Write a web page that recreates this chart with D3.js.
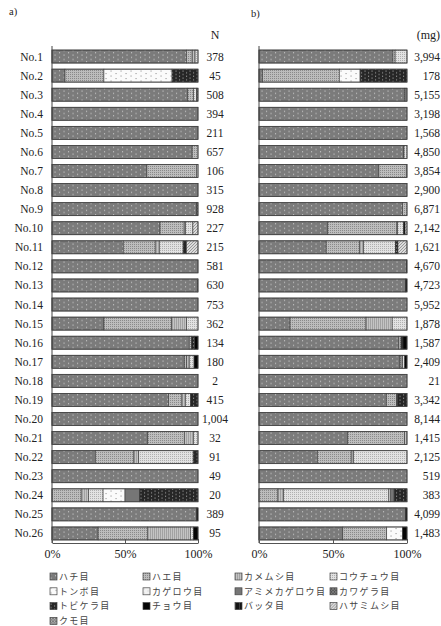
<!DOCTYPE html>
<html>
<head>
<meta charset="utf-8">
<script src="https://cdn.jsdelivr.net/npm/d3@7"></script>
<style>
    body { margin: 0; background: #fff; }
    text { font-family: "Liberation Serif", "Noto Sans CJK JP", serif; fill: #222; }
    .legend text { font-family: "Noto Sans CJK JP", sans-serif; font-size: 9px; letter-spacing: 1.3px; fill: #444; }
    .axis path, .axis line { stroke: #555; }
</style>
</head>
<body>
<div id="chart"></div>
<script>
// sites
var SITES = ["No.1", "No.2", "No.3", "No.4", "No.5", "No.6", "No.7", "No.8", "No.9", "No.10",
    "No.11", "No.12", "No.13", "No.14", "No.15", "No.16", "No.17", "No.18", "No.19", "No.20",
    "No.21", "No.22", "No.23", "No.24", "No.25", "No.26"];

// insect orders, in stacking / legend order
var ORDERS = ["ハチ目", "ハエ目", "カメムシ目", "コウチュウ目", "トンボ目", "カゲロウ目",
    "アミメカゲロウ目", "カワゲラ目", "トビケラ目", "チョウ目", "バッタ目", "ハサミムシ目", "クモ目"];

// number of individuals (N) and dry weight (mg)
var COUNT_N = [378, 45, 508, 394, 211, 657, 106, 315, 928, 227, 215, 581, 630, 753, 362, 134,
    180, 2, 415, 1004, 32, 91, 49, 20, 389, 95];
var MASS_MG = [3994, 178, 5155, 3198, 1568, 4850, 3854, 2900, 6871, 2142, 1621, 4670, 4723,
    5952, 1878, 1587, 2409, 21, 3342, 8144, 1415, 2125, 519, 383, 4099, 1483];

// a) share of individuals (%) per order, same order as ORDERS (missing = 0)
var SHARE_A = [
    [92, 4, 2, 2],
    [8.9, 26.7, 0, 0, 46.7, 0, 0, 0, 17.8],
    [93, 4, 0, 2, 0, 0, 0, 1],
    [100],
    [100],
    [96, 4],
    [65, 34, 0, 1],
    [100],
    [99, 0, 0, 0, 0, 0, 0, 1],
    [74, 16.5, 1, 5, 0, 0, 0, 0, 0, 0, 0, 3.5],
    [48.8, 21.9, 2.8, 16.3, 0, 0, 0, 0, 2.3, 0, 0, 7.9],
    [100],
    [99.5, 0, 0, 0, 0, 0, 0, 0.5],
    [100],
    [35.6, 46.4, 10.2, 7.8],
    [94, 1.5, 0, 0, 0, 0, 0, 0, 2.2, 2.3],
    [90.6, 1.7, 1.7, 3.3, 0, 0, 0, 0, 0, 2.7],
    [100],
    [79.8, 9.2, 2.4, 3.4, 0, 0, 0, 0, 5.2],
    [100],
    [65.6, 25, 6.3, 3.1],
    [29.7, 26.4, 3.3, 37.3, 0, 0, 0, 0, 3.3],
    [100],
    [0, 20, 5, 10, 15, 0, 10, 0, 40],
    [99, 0, 0, 0, 0, 0, 0, 0, 0, 1],
    [31.6, 33.7, 29.5, 2.1, 0, 0, 0, 0, 0, 3.1]
];

// b) share of weight (%) per order
var SHARE_B = [
    [90.5, 1.5, 0, 8],
    [2.3, 52, 0, 0, 14, 0, 0, 0, 31.7],
    [98.3, 1, 0.7],
    [100],
    [100],
    [97.5, 0.5, 0, 2],
    [81, 18.5, 0, 0.5],
    [100],
    [97, 3],
    [46.5, 46.7, 0.5, 4, 0, 0, 0, 0, 0, 1, 0, 1.3],
    [45.4, 22.6, 2.7, 21.4, 0, 0, 0, 0, 1.8, 0, 0, 6.1],
    [99.7, 0, 0, 0, 0, 0, 0, 0, 0, 0.3],
    [99, 0, 0, 0, 0, 0, 0, 0, 0, 1],
    [100],
    [21, 51.3, 17.7, 10],
    [94.5, 1.5, 0, 0, 0, 0, 0, 0, 1.3, 2.7],
    [95, 1, 1, 1.5, 0, 0, 0, 0, 0, 1.5],
    [100],
    [86, 7, 0.3, 0.3, 0, 0, 0, 0, 6.4],
    [100],
    [60, 38.4, 1.6],
    [39.5, 22.8, 1.6, 36.1],
    [100],
    [0, 12.8, 3.9, 70.8, 1.1, 0, 2.7, 0, 8.7],
    [99, 0, 0, 0, 0, 0, 0, 0, 0, 1],
    [56.6, 29.7, 0, 0, 10.7, 0, 0, 0, 0, 3]
];

var X_TICKS = [0, 0.5, 1];

// fill pattern for each order: base colour, mark type, mark colour
var PATTERNS = [
    {bg: "#7b7b7b", kind: "dots", fg: "#c8c8c8", step: 4.5},
    {bg: "#bdbdbd", kind: "fine", fg: "#8a8a8a", step: 2},
    {bg: "#c4c4c4", kind: "vlines", fg: "#9a9a9a", step: 2},
    {bg: "#e2e2e2", kind: "fine", fg: "#b0b0b0", step: 2},
    {bg: "#fbfbfb", kind: "dots", fg: "#999", step: 5},
    {bg: "#f2f2f2", kind: "dots", fg: "#ccc", step: 4},
    {bg: "#767676", kind: "none"},
    {bg: "#555", kind: "cross", fg: "#888", step: 3},
    {bg: "#262626", kind: "dots", fg: "#999", step: 3.5},
    {bg: "#050505", kind: "none"},
    {bg: "#151515", kind: "vlines", fg: "#444", step: 4},
    {bg: "#dcdcdc", kind: "diag", fg: "#888", step: 3},
    {bg: "#b0b0b0", kind: "cross", fg: "#666", step: 3}
];

var W = 441, H = 626;

var svg = d3.select("#chart").append("svg")
    .attr("width", W)
    .attr("height", H);

var defs = svg.append("defs");
PATTERNS.forEach(function (p, i) {
    var s = p.step || 4;
    var pat = defs.append("pattern")
        .attr("id", "pat" + i)
        .attr("patternUnits", "userSpaceOnUse")
        .attr("width", p.kind == "dots" ? s * 2 : s)
        .attr("height", s);
    pat.append("rect").attr("width", s * 2).attr("height", s).attr("fill", p.bg);
    if (p.kind == "dots") {
        pat.append("rect").attr("x", 0.5).attr("y", 0.5).attr("width", 1.1).attr("height", 1.1).attr("fill", p.fg);
        pat.append("rect").attr("x", s + 0.5).attr("y", s / 2 + 0.5).attr("width", 1.1).attr("height", 1.1).attr("fill", p.fg);
    } else if (p.kind == "fine") {
        pat.append("rect").attr("width", 1).attr("height", 1).attr("fill", p.fg);
    } else if (p.kind == "vlines") {
        pat.append("rect").attr("width", 0.8).attr("height", s).attr("fill", p.fg);
    } else if (p.kind == "diag") {
        pat.append("path").attr("d", "M0," + s + "L" + s + ",0").attr("stroke", p.fg).attr("stroke-width", 0.8);
    } else if (p.kind == "cross") {
        pat.append("path").attr("d", "M0," + s + "L" + s + ",0M0,0L" + s + "," + s)
            .attr("stroke", p.fg).attr("stroke-width", 0.7);
    }
});

function toRows(share) {
    return share.map(function (r, i) {
        var row = {site: SITES[i]};
        ORDERS.forEach(function (o, j) { row[o] = r[j] || 0; });
        return row;
    });
}

var y = d3.scaleBand()
    .domain(SITES)
    .range([47, 543])
    .paddingInner(0.32)
    .paddingOuter(0.16);

var stack = d3.stack().keys(ORDERS).offset(d3.stackOffsetExpand);

function drawPanel(share, x0, x1, tag, header, values, valueX, valueAnchor, showNames) {
    var x = d3.scaleLinear().domain([0, 1]).range([x0, x1]);
    var g = svg.append("g");
    var series = stack(toRows(share));

    g.selectAll("g.series")
        .data(series)
        .enter().append("g")
        .attr("class", "series")
        .attr("fill", function (d, i) { return "url(#pat" + i + ")"; })
        .selectAll("rect")
        .data(function (d) { return d.filter(function (v) { return v[1] - v[0] > 0; }); })
        .enter().append("rect")
        .attr("x", function (d) { return x(d[0]); })
        .attr("width", function (d) { return x(d[1]) - x(d[0]); })
        .attr("y", function (d) { return y(d.data.site); })
        .attr("height", y.bandwidth())
        .attr("stroke", "#3a3a3a")
        .attr("stroke-width", 0.6);

    // outline of whole bar
    g.selectAll("rect.outline")
        .data(SITES)
        .enter().append("rect")
        .attr("class", "outline")
        .attr("x", x(0))
        .attr("width", x(1) - x(0))
        .attr("y", function (d) { return y(d); })
        .attr("height", y.bandwidth())
        .attr("fill", "none")
        .attr("stroke", "#444")
        .attr("stroke-width", 0.8);

    // y axis line
    g.append("line")
        .attr("x1", x0).attr("x2", x0)
        .attr("y1", 46).attr("y2", 543)
        .attr("stroke", "#444");

    g.append("g")
        .attr("class", "axis")
        .attr("transform", "translate(0,543)")
        .call(d3.axisBottom(x).tickValues(X_TICKS).tickSizeInner(-4).tickSizeOuter(0)
            .tickFormat(d3.format(".0%")).tickPadding(6))
        .selectAll("text")
        .style("font-family", "Liberation Serif, serif")
        .style("font-size", "12px")
        .attr("fill", "#222");

    if (showNames) {
        g.selectAll("text.site")
            .data(SITES)
            .enter().append("text")
            .attr("class", "site")
            .attr("x", x0 - 9)
            .attr("y", function (d) { return y(d) + y.bandwidth() / 2; })
            .attr("dy", "0.35em")
            .attr("text-anchor", "end")
            .style("font-size", "11.5px")
            .text(function (d) { return d; });
    }

    g.selectAll("text.val")
        .data(values)
        .enter().append("text")
        .attr("class", "val")
        .attr("x", valueX)
        .attr("y", function (d, i) { return y(SITES[i]) + y.bandwidth() / 2; })
        .attr("dy", "0.35em")
        .attr("text-anchor", valueAnchor)
        .style("font-size", "11.5px")
        .text(d3.format(","));

    g.append("text")
        .attr("x", valueX)
        .attr("y", 39)
        .attr("text-anchor", valueAnchor)
        .style("font-size", "12px")
        .text(header);

    g.append("text")
        .attr("x", tag.x)
        .attr("y", tag.y)
        .style("font-size", "10.5px")
        .text(tag.t);
}

drawPanel(SHARE_A, 52, 198, {t: "a)", x: 9, y: 15}, "N", COUNT_N, 215, "middle", true);
drawPanel(SHARE_B, 259, 407, {t: "b)", x: 251, y: 17}, "(mg)", MASS_MG, 440, "end", false);

// legend
var legendX = [50, 143, 235, 330];
var legend = svg.append("g").attr("class", "legend")
    .selectAll("g")
    .data(ORDERS)
    .enter().append("g")
    .attr("transform", function (d, i) {
        return "translate(" + legendX[i % 4] + "," + (577 + Math.floor(i / 4) * 14.8) + ")";
    });

legend.append("rect")
    .attr("x", 0).attr("y", -4)
    .attr("width", 7).attr("height", 7)
    .attr("fill", function (d, i) { return "url(#pat" + i + ")"; })
    .attr("stroke", "#444")
    .attr("stroke-width", 0.7);

legend.append("text")
    .attr("x", 9)
    .attr("dy", "0.32em")
    .text(function (d) { return d; });
</script>
</body>
</html>
